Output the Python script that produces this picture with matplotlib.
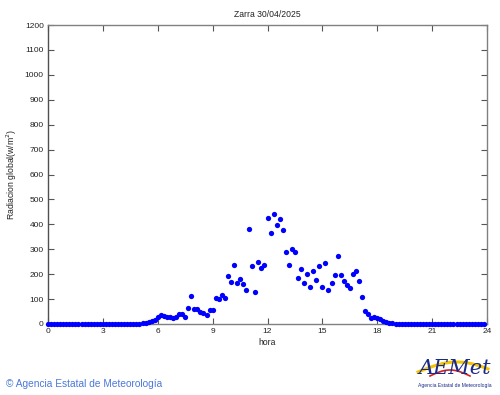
import numpy as np
import matplotlib
matplotlib.use("Agg")
import matplotlib.pyplot as plt

# 10-minute samples, 0:00 .. 23:50
hours = [i / 6 for i in range(144)]
night_am = [1] * 30
morning = [1, 3, 5, 8, 12, 18, 30, 36, 33, 30, 27, 26, 28, 42, 40, 30,
           65, 112, 59, 60, 49, 43, 37, 56, 55, 104, 101, 115, 104, 194,
           168, 235, 166, 179, 160, 136, 383, 234, 130, 248, 226, 237]
afternoon = [427, 365, 441, 396, 420, 379, 290, 238, 301, 288, 185, 219,
             166, 199, 147, 213, 177, 233, 148, 246, 135, 163, 195, 274,
             198, 171, 158, 143, 200, 214, 173, 107, 53, 39, 23, 29, 25,
             19, 12, 8, 5, 3, 2]
night_pm = [1] * (144 - 30 - len(morning) - len(afternoon))
radiation = night_am + morning + afternoon + night_pm

x_ticks = list(range(0, 25, 3))
y_ticks = list(range(0, 1201, 100))
title = "Zarra 30/04/2025"

plt.rcParams['font.family'] = ['Liberation Sans', 'DejaVu Sans']

W, H = 500, 395
fig = plt.figure(figsize=(W / 100, H / 100), dpi=100)
ax = fig.add_axes([48 / W, 1 - 324 / H, (487 - 48) / W, (324 - 25) / H])

ax.plot(hours, radiation, 'o', color='#0000ff', markersize=3.8,
        markeredgewidth=0, clip_on=False, zorder=3)

ax.set_xlim(0, 24)
ax.set_ylim(0, 1200)
ax.set_xticks(x_ticks)
ax.set_yticks(y_ticks)
ax.tick_params(direction='in', length=4, width=0.8, color='#555555',
               labelsize=6, labelcolor='#222222', top=True, right=True,
               pad=3)
for s in ax.spines.values():
    s.set_color('#808080')
    s.set_linewidth(1.0)
ax.spines['left'].set_color('#505050')

ax.set_title(title, fontsize=6.2, color='#222222', pad=6)
ax.set_xlabel("hora", fontsize=6.2, color='#222222', labelpad=2)
ax.set_ylabel("Radiacion global(w/m$^2$)", fontsize=6.2, color='#222222',
              labelpad=4)

# footer
fig.text(6 / W, 1 - 384 / H, "\u00a9 Agencia Estatal de Meteorología",
         fontsize=7.3, color='#4a78d8', va='center', ha='left')

# AEMET logo approximation
t = np.linspace(0, 1, 50)
xs = 418 + 70 * t
ys = 372 - 10 * np.sin(np.pi * t * 0.9)
fig.add_artist(plt.Line2D(xs / W, 1 - ys / H, color='#f5c400', lw=2.2))
xs2 = 430 + 40 * t
ys2 = 376 - 6 * np.sin(np.pi * t)
fig.add_artist(plt.Line2D(xs2 / W, 1 - ys2 / H, color='#d62020', lw=1.2))
fig.text(455 / W, 1 - 368 / H, "AEMet", fontsize=15, color='#1a2a8a',
         style='italic', ha='center', va='center', family='DejaVu Serif')
fig.text(455 / W, 1 - 386 / H, "Agencia Estatal de Meteorología",
         fontsize=3.6, color='#1a2a8a', ha='center', va='center')

fig.savefig("out.png", dpi=100)
